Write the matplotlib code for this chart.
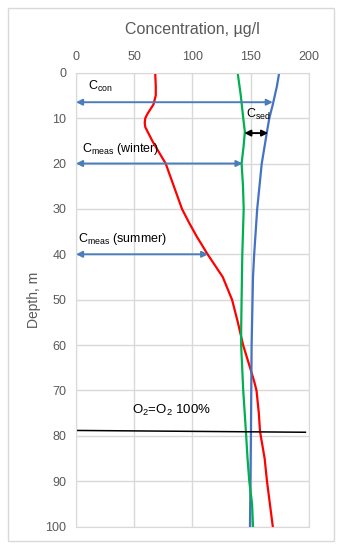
import numpy as np
import matplotlib.pyplot as plt
from matplotlib.patches import Rectangle

plt.rcParams['font.family'] = ['Liberation Sans', 'DejaVu Sans']

# depth profiles
red_depth = [0, 3, 5, 7, 8, 9, 10, 11, 12, 13, 15, 17, 20, 25, 30, 33, 36, 40, 45, 50, 55, 60, 65, 68, 70, 75, 79, 85, 90, 95, 100]
red_conc = [68, 68.5, 68.5, 66.5, 64, 61.5, 59.5, 59, 59.5, 61.5, 65.5, 70, 77, 84, 91, 97, 103.5, 113, 126, 134, 139, 143.5, 149.5, 153, 155, 157, 158, 162, 164, 166.5, 169]

blue_depth = [0, 3, 7, 10, 13, 20, 30, 40, 45, 50, 60, 70, 80, 90, 100]
blue_conc = [174.5, 172.5, 169, 166, 164, 159.5, 155.6, 153, 152, 151.6, 150.8, 150.5, 150.2, 149.8, 149.4]

green_depth = [0, 5, 10, 13, 16, 20, 25, 30, 40, 50, 57, 60, 70, 79, 85, 90, 95, 100]
green_conc = [138.8, 141.5, 143.6, 145, 144, 142.2, 143.4, 144, 142.8, 142.2, 141.8, 141.8, 143.6, 145.9, 147.3, 148.8, 151.2, 152]

# annotation arrows: (depth, end concentration)
con_arrow = (6.5, 169)
winter_arrow = (20, 143)
summer_arrow = (40, 113.5)
sed_arrow = (13.3, 144.5, 165)
o2_line = ([0, 197], [78.8, 79.2])

x_ticks = [0, 50, 100, 150, 200]
y_ticks = list(range(0, 101, 10))

fig = plt.figure(figsize=(3.43, 5.5), dpi=100)
fig.patches.append(Rectangle((0.0233, 0.0164), 0.9505, 0.9691, transform=fig.transFigure,
                             fill=False, edgecolor='#d9d9d9', linewidth=1))
ax = fig.add_axes([0.2216, 0.0424, 0.679, 0.8254])

ax.plot(red_conc, red_depth, color='#ff0000', lw=1.6)
ax.plot(blue_conc, blue_depth, color='#4472c4', lw=1.6)
ax.plot(green_conc, green_depth, color='#00b050', lw=1.6)

arrow_blue = '#4a7ebb'
for d, x2 in [con_arrow, winter_arrow, summer_arrow]:
    ax.annotate('', xy=(x2, d), xytext=(0, d),
                arrowprops=dict(arrowstyle='<|-|>', color=arrow_blue, lw=1.4,
                                mutation_scale=9, shrinkA=0, shrinkB=0))
ax.annotate('', xy=(sed_arrow[2], sed_arrow[0]), xytext=(sed_arrow[1], sed_arrow[0]),
            arrowprops=dict(arrowstyle='<|-|>', color='black', lw=1.4,
                            mutation_scale=9, shrinkA=0, shrinkB=0))
ax.plot(o2_line[0], o2_line[1], color='black', lw=1.1)

ax.text(10, 3.8, r'C$_{\mathregular{con}}$', fontsize=9)
ax.text(146, 9.9, r'C$_{\mathregular{sed}}$', fontsize=9)
ax.text(5.5, 17.5, r'C$_{\mathregular{meas}}$ (winter)', fontsize=9)
ax.text(2, 37.3, r'C$_{\mathregular{meas}}$ (summer)', fontsize=9)
ax.text(48, 75.2, r'O$_{\mathregular{2}}$=O$_{\mathregular{2}}$ 100%', fontsize=9.5)

ax.set_xlim(0, 200)
ax.set_ylim(100, 0)
ax.set_xticks(x_ticks)
ax.set_yticks(y_ticks)
ax.xaxis.tick_top()
ax.xaxis.set_label_position('top')
ax.set_xlabel('Concentration, µg/l', fontsize=11.5, color='#595959', labelpad=12)
ax.set_ylabel('Depth, m', fontsize=10, color='#595959', labelpad=3)
ax.tick_params(length=0, labelsize=9, colors='#595959', pad=7)
ax.grid(True, color='#d9d9d9', lw=1)
ax.set_axisbelow(True)
for s in ax.spines.values():
    s.set_color('#d9d9d9')

fig.savefig('out.png', dpi=100)
